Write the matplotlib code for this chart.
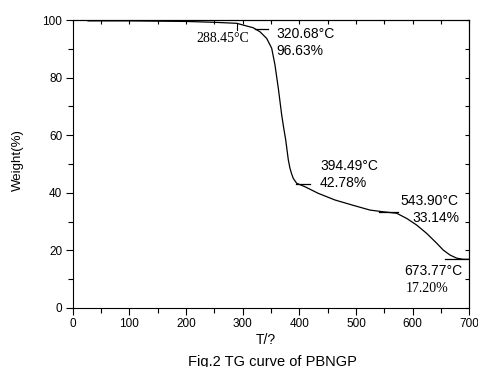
import matplotlib
matplotlib.use("Agg")
import matplotlib.pyplot as plt
from matplotlib.ticker import MultipleLocator

matplotlib.rcParams["font.family"] = "Liberation Sans"

# TG curve
temperature = [27, 100, 200, 250, 289.4, 318.7, 330.6, 342.4, 351.2, 357, 362.9, 368.9,
               372, 376, 380.5, 383.5, 386.5, 389.3, 395.3, 410, 433.5, 462.9, 492.4,
               524.7, 548.2, 571.8, 589.5, 607.1, 624.8, 642.4, 654.1, 665.9, 677.7,
               689.4, 700]
weight = [99.7, 99.7, 99.5, 99.2, 98.85, 97.3, 95.9, 93.6, 90.2, 84.4, 76.3, 67.0,
          63.0, 58.3, 51.5, 48.5, 46.5, 45.0, 43.3, 42.1, 39.8, 37.5, 35.8,
          34.0, 33.4, 32.9, 31.1, 28.8, 25.9, 22.5, 20.1, 18.4, 17.3,
          16.9, 16.9]

# short marker segments at the labelled points: (x0, x1, y)
marker_segments = [(322, 345, 96.8), (395, 419, 43.0), (540, 574, 33.5), (657, 700, 17.0)]
onset_tick = (289.4, 96.5, 98.85)

# annotations: (x, y, text, family)
labels = [
    (219, 92.5, "288.45°C", "Liberation Serif"),
    (358.8, 93.8, "320.68°C", "Liberation Sans"),
    (358.8, 87.8, "96.63%", "Liberation Sans"),
    (436.5, 47.9, "394.49°C", "Liberation Sans"),
    (436.5, 41.9, "42.78%", "Liberation Sans"),
    (577.6, 35.8, "543.90°C", "Liberation Sans"),
    (599.5, 30.0, "33.14%", "Liberation Sans"),
    (584.7, 11.5, "673.77°C", "Liberation Sans"),
    (587, 5.7, "17.20%", "Liberation Serif"),
]

fig = plt.figure(figsize=(4.78, 3.67), dpi=100)
ax = fig.add_axes([0.1521, 0.1608, 0.8297, 0.7847])

ax.plot(temperature, weight, color="black", lw=0.9)
for x0, x1, y in marker_segments:
    ax.plot([x0, x1], [y, y], color="black", lw=0.9)
ax.plot([onset_tick[0], onset_tick[0]], [onset_tick[1], onset_tick[2]], color="black", lw=0.8)

for x, y, s, fam in labels:
    ax.text(x, y, s, family=fam, fontsize=10, ha="left", va="baseline")

ax.set_xlim(0, 700)
ax.set_ylim(0, 100)
ax.xaxis.set_major_locator(MultipleLocator(100))
ax.xaxis.set_minor_locator(MultipleLocator(50))
ax.yaxis.set_major_locator(MultipleLocator(20))
ax.yaxis.set_minor_locator(MultipleLocator(10))
ax.tick_params(which="major", direction="out", length=5, width=0.8, labelsize=8.5, pad=2.5)
ax.tick_params(which="minor", direction="out", length=3.5, width=0.8)
for sp in ax.spines.values():
    sp.set_linewidth(0.8)

top = ax.secondary_xaxis("top")
top.xaxis.set_major_locator(MultipleLocator(50))
top.tick_params(direction="in", length=3, width=0.8, labeltop=False)
right = ax.secondary_yaxis("right")
right.yaxis.set_major_locator(MultipleLocator(10))
right.tick_params(direction="in", length=3, width=0.8, labelright=False)

fig.text(0.0377, 0.564, "Weight(%)", rotation=90, ha="center", va="center", fontsize=9.5)
fig.text(0.556, 0.063, "T/?", ha="center", va="baseline", fontsize=10)
fig.text(0.569, 0.004, "Fig.2 TG curve of PBNGP", ha="center", va="baseline", fontsize=10.5)

fig.savefig("out.png", dpi=100)
